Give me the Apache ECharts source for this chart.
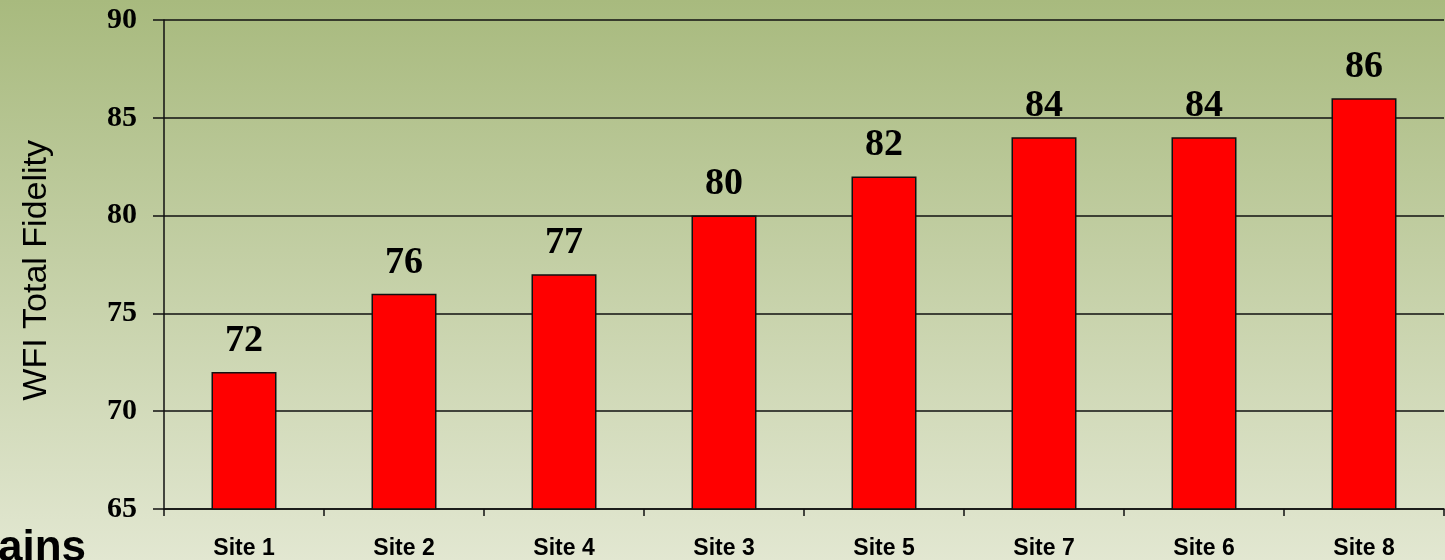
<!DOCTYPE html>
<html>
<head>
<meta charset="utf-8">
<script src="https://cdn.jsdelivr.net/npm/echarts@6/dist/echarts.min.js"></script>
<style>
  html, body { margin: 0; padding: 0; }
  #chart { width: 1445px; height: 560px; }
</style>
</head>
<body>
<div id="chart"></div>
<script>
const sites = ["Site 1", "Site 2", "Site 4", "Site 3", "Site 5", "Site 7", "Site 6", "Site 8"];
const fidelity = [72, 76, 77, 80, 82, 84, 84, 86];
const yMin = 65;
const yMax = 90;
const yStep = 5;

var chartDom = document.getElementById("chart");
let myChart = echarts.init(chartDom);

const chartOption = {
  animation: false,
  backgroundColor: {
    type: "linear",
    x: 0, y: 0, x2: 0, y2: 1,
    colorStops: [
      { offset: 0, color: "#a8ba7e" },
      { offset: 1, color: "#e2e7d1" },
    ],
  },
  grid: { left: 164, right: 1, top: 20, bottom: 49 },
  graphic: [
    {
      type: "text",
      right: 1359,
      top: 527,
      style: {
        text: "ains",
        font: "bold 44px 'Liberation Sans', Arial, sans-serif",
        fill: "#000",
      },
    },
    {
      type: "text",
      left: 20,
      top: 140,
      rotation: Math.PI / 2,
      style: {
        text: "WFI Total Fidelity",
        font: "34px 'Liberation Sans', Arial, sans-serif",
        fill: "#000",
      },
    },
  ],
  xAxis: {
    type: "category",
    data: sites,
    axisLine: { show: true, lineStyle: { color: "#111", width: 1.5 } },
    axisTick: { show: true, length: 7, lineStyle: { color: "#111", width: 1.5 } },
    axisLabel: {
      color: "#000",
      fontFamily: "'Liberation Sans', Arial, sans-serif",
      fontWeight: "bold",
      fontSize: 23,
      margin: 28,
    },
  },
  yAxis: {
    type: "value",
    min: yMin,
    max: yMax,
    interval: yStep,
    axisLine: { show: true, lineStyle: { color: "#111", width: 1.5 } },
    axisTick: { show: true, length: 11, lineStyle: { color: "#111", width: 1.5 } },
    splitLine: { show: true, lineStyle: { color: "#111", width: 1.5 } },
    axisLabel: {
      color: "#000",
      fontFamily: "'Liberation Serif', 'Times New Roman', serif",
      fontWeight: "bold",
      fontSize: 30,
      margin: 27,
    },
  },
  series: [
    {
      type: "bar",
      data: fidelity,
      barWidth: 65,
      itemStyle: { color: "#ff0000", borderColor: "#111", borderWidth: 1.5 },
      label: {
        show: true,
        position: "top",
        distance: 12,
        color: "#000",
        fontFamily: "'Liberation Serif', 'Times New Roman', serif",
        fontWeight: "bold",
        fontSize: 38,
      },
    },
  ],
};

myChart.setOption(chartOption);
window.onresize = () => {
  myChart.resize();
};
</script>
</body>
</html>
